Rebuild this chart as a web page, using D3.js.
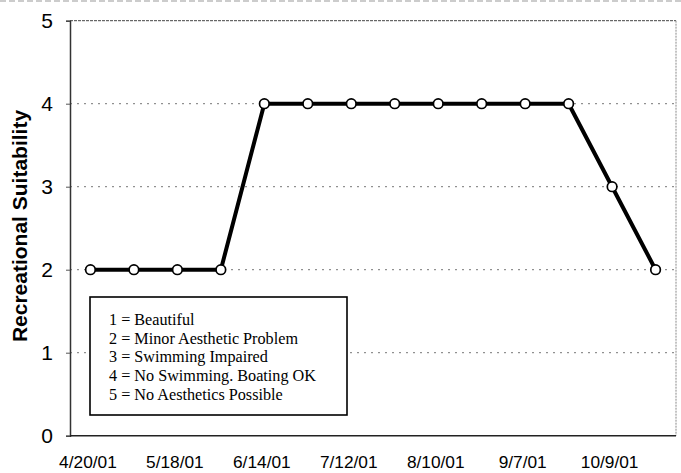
<!DOCTYPE html>
<html>
<head>
<meta charset="utf-8">
<script src="https://cdn.jsdelivr.net/npm/d3@7"></script>
<style>
  body { margin: 0; background: #fff; }
  #graf { width: 681px; height: 473px; }
</style>
</head>
<body>
<div id="graf"></div>
<script>
// Data
fechas = ['4/20/01', '5/4/01', '5/18/01', '6/1/01', '6/14/01', '6/28/01', '7/12/01',
          '7/26/01', '8/10/01', '8/24/01', '9/7/01', '9/21/01', '10/9/01', '10/23/01']
valores = [2, 2, 2, 2, 4, 4, 4, 4, 4, 4, 4, 4, 3, 2]
etiquetas = ['4/20/01', '5/18/01', '6/14/01', '7/12/01', '8/10/01', '9/7/01', '10/9/01']
yTicks = [0, 1, 2, 3, 4, 5]
leyenda = ['1 = Beautiful',
           '2 = Minor Aesthetic Problem',
           '3 = Swimming Impaired',
           '4 = No Swimming. Boating OK',
           '5 = No Aesthetics Possible']

// Setup
ancho_total = 681
alto_total = 473
margins = { top: 20.7, left: 70, right: 5, bottom: 37.3 }
ancho = ancho_total - margins.left - margins.right
alto = alto_total - margins.top - margins.bottom

svg = d3.select('#graf').append('svg')
        .attr('width', ancho_total)
        .attr('height', alto_total)

// faint scan line at the very top
svg.append('line')
  .attr('x1', 0).attr('x2', ancho_total)
  .attr('y1', 1).attr('y2', 1)
  .attr('stroke', '#999')
  .attr('stroke-dasharray', '6,3')

g = svg.append('g')
       .attr('transform', `translate(${margins.left}, ${margins.top})`)

x = d3.scalePoint().domain(fechas).range([0, ancho]).padding(0.47)
y = d3.scaleLinear().domain([0, 5]).range([alto, 0])

// gridlines
g.selectAll('.grid')
  .data(yTicks.filter(d => d > 0 && d < 5))
  .enter().append('line')
    .attr('x1', 0).attr('x2', ancho)
    .attr('y1', d => y(d)).attr('y2', d => y(d))
    .attr('stroke', '#777')
    .attr('stroke-width', 1)
    .attr('stroke-dasharray', '2,5')

// frame top and right (dotted)
g.append('line')
  .attr('x1', 0).attr('x2', ancho)
  .attr('y1', y(5)).attr('y2', y(5))
  .attr('stroke', '#444')
  .attr('stroke-dasharray', '3,1')
g.append('line')
  .attr('x1', ancho).attr('x2', ancho)
  .attr('y1', y(5)).attr('y2', y(0))
  .attr('stroke', '#888')
  .attr('stroke-dasharray', '2,1')

// axes
yAxis = d3.axisLeft(y).tickValues(yTicks).tickFormat(d3.format('d')).tickSize(4).tickPadding(13)
yG = g.append('g').call(yAxis)
yG.select('.domain').attr('stroke', '#333').attr('stroke-width', 1.5)
yG.selectAll('.tick line').attr('stroke', '#555')
yG.selectAll('text')
  .attr('font-family', 'Arial, Liberation Sans, sans-serif')
  .attr('font-size', '21px')
  .attr('fill', '#000')

xAxis = d3.axisBottom(x).tickValues(etiquetas).tickSize(0).tickPadding(20)
xG = g.append('g').attr('transform', `translate(0,${alto})`).call(xAxis)
xG.select('.domain').attr('stroke', '#222').attr('stroke-width', 1.5)
  .attr('d', `M0,0H${ancho}`)
xG.selectAll('text')
  .attr('font-family', 'Arial, Liberation Sans, sans-serif')
  .attr('font-size', '17.3px')
  .attr('fill', '#000')
  .attr('dx', '-3px')

// axis title
svg.append('text')
  .attr('transform', `translate(27, 226) rotate(-90)`)
  .attr('text-anchor', 'middle')
  .attr('font-family', 'Arial, Liberation Sans, sans-serif')
  .attr('font-weight', 'bold')
  .attr('font-size', '21px')
  .text('Recreational Suitability')

// line + markers
linea = d3.line().x((d, i) => x(fechas[i])).y(d => y(d))
g.append('path')
  .datum(valores)
  .attr('d', linea)
  .attr('fill', 'none')
  .attr('stroke', '#000')
  .attr('stroke-width', 4)
  .attr('stroke-linejoin', 'round')

g.selectAll('circle')
  .data(valores)
  .enter().append('circle')
    .attr('cx', (d, i) => x(fechas[i]))
    .attr('cy', d => y(d))
    .attr('r', 4.8)
    .attr('fill', '#fff')
    .attr('stroke', '#000')
    .attr('stroke-width', 1.7)

// legend box
ley = svg.append('g').attr('transform', 'translate(90, 297)')
ley.append('rect')
  .attr('x', 0).attr('y', 0)
  .attr('width', 257).attr('height', 118)
  .attr('fill', '#fff')
  .attr('stroke', '#000')
  .attr('stroke-width', 1.6)
ley.selectAll('text')
  .data(leyenda)
  .enter().append('text')
    .attr('x', 19)
    .attr('y', (d, i) => 28 + i * 18.7)
    .attr('font-family', 'Times New Roman, Liberation Serif, serif')
    .attr('font-size', '16.2px')
    .attr('fill', '#000')
    .text(d => d)
</script>
</body>
</html>
